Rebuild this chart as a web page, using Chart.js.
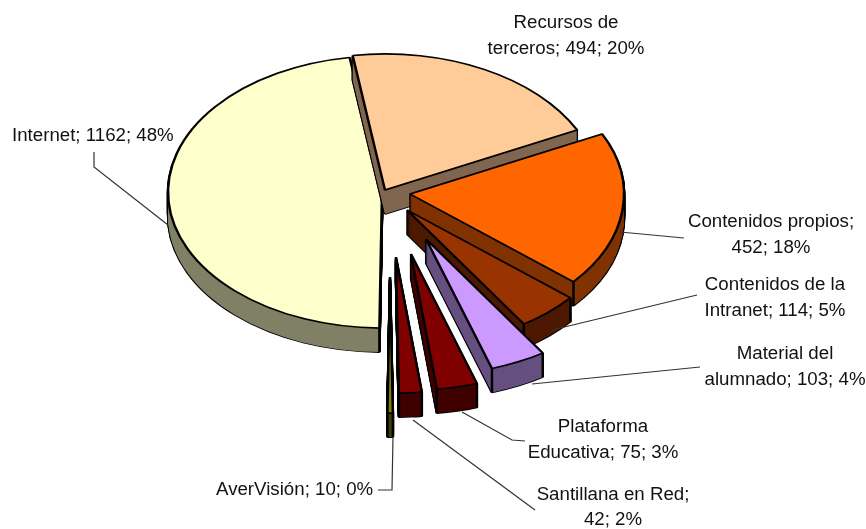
<!DOCTYPE html>
<html>
<head>
<meta charset="utf-8">
<style>
  html, body { margin: 0; padding: 0; background: #fff; }
  #wrap { position: relative; width: 866px; height: 529px; }
  canvas { display: block; }
</style>
<script src="https://cdn.jsdelivr.net/npm/chart.js@4/dist/chart.umd.min.js"></script>
</head>
<body>
<div id="wrap"><canvas id="chart" width="866" height="529"></canvas></div>
<script>
var categories = ['Recursos de terceros', 'Contenidos propios', 'Contenidos de la Intranet',
  'Material del alumnado', 'Plataforma Educativa', 'Santillana en Red', 'AverVisión', 'Internet'];
var values = [494, 452, 114, 103, 75, 42, 10, 1162];

var topColors = ['#FFCC99', '#FF6600', '#993300', '#CC99FF', '#800000', '#800000', '#808000', '#FFFFCC'];
var sideColors = ['#806650', '#803300', '#4D1900', '#665080', '#400000', '#400000', '#404000', '#808066'];

// how far each slice is pulled out on screen, in px
var pullX = [3, 28, 25, 44, 29, 14, 8, 0];
var pullY = [-2, 2, 18, 47, 62, 65, 85, 0];

var centerY = 192;
var tilt = 0.636;
var depth = 24;

// label text, one entry per line, placed by hand like the original
var labels = [
  { text: 'Recursos de', x: 566, y: 23, align: 'center' },
  { text: 'terceros; 494; 20%', x: 566, y: 49, align: 'center' },
  { text: 'Internet; 1162; 48%', x: 12, y: 136, align: 'left' },
  { text: 'Contenidos propios;', x: 771, y: 222, align: 'center' },
  { text: '452; 18%', x: 771, y: 248, align: 'center' },
  { text: 'Contenidos de la', x: 775, y: 285, align: 'center' },
  { text: 'Intranet; 114; 5%', x: 775, y: 311, align: 'center' },
  { text: 'Material del', x: 785, y: 354, align: 'center' },
  { text: 'alumnado; 103; 4%', x: 785, y: 380, align: 'center' },
  { text: 'Plataforma', x: 603, y: 427, align: 'center' },
  { text: 'Educativa; 75; 3%', x: 603, y: 453, align: 'center' },
  { text: 'Santillana en Red;', x: 613, y: 495, align: 'center' },
  { text: '42; 2%', x: 613, y: 520, align: 'center' },
  { text: 'AverVisión; 10; 0%', x: 216, y: 490, align: 'left' }
];

var leaders = [
  [[94, 152], [94, 167], [168, 225]],
  [[620, 232], [684, 238]],
  [[552, 330], [697, 295]],
  [[532, 384], [700, 367]],
  [[462, 412], [512, 440], [525, 441]],
  [[413, 420], [535, 510]],
  [[393, 437], [392, 490], [378, 490]]
];

function drawSlice(ctx, arc, i, shift, patch) {
  var saved = arc.options;
  arc.options = Object.assign({}, saved, patch);
  ctx.save();
  ctx.translate(pullX[i], centerY + pullY[i] + shift);
  ctx.scale(1, tilt);
  ctx.translate(0, -centerY);
  arc.draw(ctx);
  ctx.restore();
  arc.options = saved;
}

// vertical edge where a cut face meets the round side
function drawCorner(ctx, arc, i, angle) {
  if (Math.sin(angle) <= 0) return;
  var x = arc.x + Math.cos(angle) * arc.outerRadius + pullX[i];
  var y = centerY + Math.sin(angle) * arc.outerRadius * tilt + pullY[i];
  ctx.save();
  ctx.strokeStyle = '#000';
  ctx.lineWidth = 2.5;
  ctx.beginPath();
  ctx.moveTo(x, y);
  ctx.lineTo(x, y + depth);
  ctx.stroke();
  ctx.restore();
}

// tilts the pie and extrudes every slice, back to front
var pie3d = {
  id: 'pie3d',
  beforeDatasetDraw: function (chart, args) {
    var ctx = chart.ctx;
    var arcs = args.meta.data;
    var order = [7, 0, 1, 2, 3, 4, 5, 6];
    order.forEach(function (i) {
      var d;
      for (d = depth; d >= 1; d--) {
        drawSlice(ctx, arcs[i], i, d, { backgroundColor: '#000', borderColor: '#000', borderWidth: 2.5 });
      }
      for (d = depth; d >= 1; d--) {
        drawSlice(ctx, arcs[i], i, d, { backgroundColor: sideColors[i], borderWidth: 0 });
      }
      drawCorner(ctx, arcs[i], i, arcs[i].startAngle);
      drawCorner(ctx, arcs[i], i, arcs[i].endAngle);
      drawSlice(ctx, arcs[i], i, 0, { borderColor: '#000', borderWidth: 2.5 });
    });
    return false;
  },
  afterDraw: function (chart) {
    var ctx = chart.ctx;
    ctx.save();
    ctx.strokeStyle = '#333';
    ctx.lineWidth = 1.2;
    leaders.forEach(function (pts) {
      ctx.beginPath();
      pts.forEach(function (p, n) {
        if (n == 0) ctx.moveTo(p[0], p[1]);
        else ctx.lineTo(p[0], p[1]);
      });
      ctx.stroke();
    });
    ctx.fillStyle = '#111';
    ctx.font = '18.7px "Liberation Sans", Arial, sans-serif';
    ctx.textBaseline = 'middle';
    labels.forEach(function (l) {
      ctx.textAlign = l.align;
      ctx.fillText(l.text, l.x, l.y);
    });
    ctx.restore();
  }
};

new Chart(document.getElementById('chart'), {
  type: 'pie',
  data: {
    labels: categories,
    datasets: [{
      data: values,
      backgroundColor: topColors,
      borderColor: '#000',
      borderWidth: 2.5,
      clip: false
    }]
  },
  options: {
    responsive: false,
    animation: false,
    rotation: -8.7,
    radius: 214,
    layout: { padding: { left: 0, right: 102, top: 0, bottom: 145 } },
    plugins: { legend: { display: false }, tooltip: { enabled: false } }
  },
  plugins: [pie3d]
});
</script>
</body>
</html>
